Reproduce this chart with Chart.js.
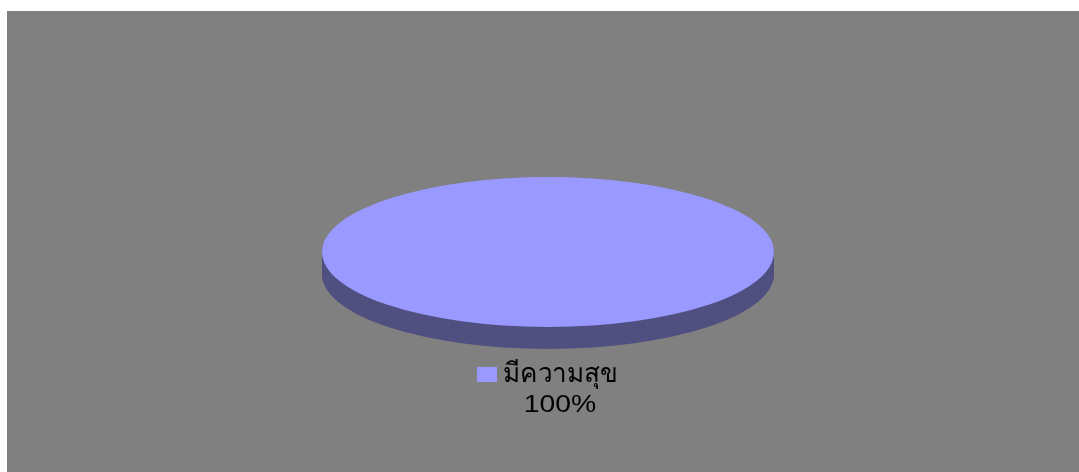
<!DOCTYPE html>
<html>
<head>
<meta charset="utf-8">
<script src="https://cdn.jsdelivr.net/npm/chart.js"></script>
<style>
  body { margin: 0; background: #fff; }
  #wrap { position: absolute; left: 7px; top: 11px; width: 1072px; height: 461px; background: #808080; }
</style>
</head>
<body>
<div id="wrap"><canvas id="myChart" width="1072" height="461"></canvas></div>
<script>
const labels = ['มีความสุข'];
const values = [100];
const colors = ['#9999ff'];
const sideColors = ['#505080'];

// 3d look: squash the pie into an ellipse and draw a thick side under it
const tilt = 75 / 226;
const depth = 22;

function squash(ctx, arc) {
  ctx.translate(arc.x, arc.y);
  ctx.scale(1, tilt);
  ctx.translate(-arc.x, -arc.y);
}

const pie3d = {
  id: 'pie3d',
  beforeDatasetsDraw(chart) {
    const ctx = chart.ctx;
    const arcs = chart.getDatasetMeta(0).data;
    arcs.forEach((arc, i) => {
      for (let d = depth; d > 0; d--) {
        ctx.save();
        ctx.translate(0, d);
        squash(ctx, arc);
        ctx.beginPath();
        ctx.moveTo(arc.x, arc.y);
        ctx.arc(arc.x, arc.y, arc.outerRadius, arc.startAngle, arc.endAngle);
        ctx.closePath();
        ctx.fillStyle = sideColors[i];
        ctx.fill();
        ctx.restore();
      }
    });
    ctx.save();
    squash(ctx, arcs[0]);
  },
  afterDatasetsDraw(chart) {
    chart.ctx.restore();
  },
  afterDraw(chart) {
    const ctx = chart.ctx;
    const total = values.reduce((a, b) => a + b, 0);
    ctx.save();
    ctx.fillStyle = colors[0];
    ctx.fillRect(470, 356, 20, 15);
    ctx.fillStyle = '#000';
    ctx.textAlign = 'left';
    ctx.font = '27px "Liberation Sans", "DejaVu Sans", "Noto Sans", sans-serif';
    const w = ctx.measureText(labels[0]).width;
    ctx.save();
    ctx.translate(496, 371);
    ctx.scale(114 / w, 1);
    ctx.fillText(labels[0], 0, 0);
    ctx.restore();
    ctx.font = '24px "Liberation Sans", "DejaVu Sans", sans-serif';
    ctx.save();
    ctx.translate(553, 401);
    ctx.scale(1.18, 1);
    ctx.textAlign = 'center';
    ctx.fillText(Math.round(values[0] / total * 100) + '%', 0, 0);
    ctx.restore();
    ctx.restore();
  }
};

const ctx = document.getElementById('myChart').getContext('2d');
const myChart = new Chart(ctx, {
  type: 'pie',
  data: {
    labels: labels,
    datasets: [{
      data: values,
      backgroundColor: colors,
      borderWidth: 0,
      radius: 226
    }]
  },
  options: {
    responsive: false,
    animation: false,
    events: [],
    layout: { padding: { left: 10, right: 0, top: 21, bottom: 0 } },
    plugins: {
      legend: { display: false },
      tooltip: { enabled: false }
    }
  },
  plugins: [pie3d]
});
</script>
</body>
</html>
